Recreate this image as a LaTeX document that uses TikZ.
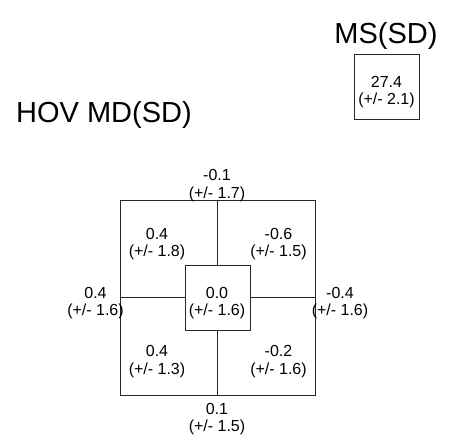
\documentclass[tikz,border=0pt]{standalone}
\usepackage{fontspec}
\setmainfont{Liberation Sans}
\usepackage{tikz}
\usetikzlibrary{positioning}

\tikzset{
  cell/.style={draw=black!85, line width=0.9pt, inner sep=0pt},
  cross/.style={draw=black!85, line width=0.9pt},
  val/.style={inner sep=0pt, align=center, font=\fontsize{16}{17.5}\selectfont},
  title/.style={inner sep=0pt, font=\fontsize{29}{32}\selectfont}
}

\begin{document}
\begin{tikzpicture}[x=1pt,y=1pt,yscale=-1,xscale=1]
\useasboundingbox (0,0) rectangle (450,445);

% Titles
\node (mstitle) [title] at (386,35.8) {MS(SD)};
\node (hovtitle) [title] at (104,115) {HOV MD(SD)};

%Shape: MS box
\node (msbox) [cell, minimum size=65pt] at (386.5,86.5) {};
\node (msval) [val] at (386.5,92) {27.4\\(+/- 2.1)};

%Shape: outer square
\node (grid) [cell, minimum size=195pt] at (217.5,297.5) {};
%Shape: inner square
\node (centre) [cell, minimum size=65pt] at (217.5,297.5) {};

%Straight Lines: cross
\draw [cross] (grid.north) -- (centre.north);
\draw [cross] (grid.south) -- (centre.south);
\draw [cross] (grid.west) -- (centre.west);
\draw [cross] (grid.east) -- (centre.east);

% Text Node
\node (topval) [val] at (217,185.5) {-0.1\\(+/- 1.7)};
% Text Node
\node (ulval) [val] at (157,244) {0.4\\(+/- 1.8)};
% Text Node
\node (urval) [val] at (278.5,244) {-0.6\\(+/- 1.5)};
% Text Node
\node (leftval) [val] at (95.5,303) {0.4\\(+/- 1.6)};
% Text Node
\node (midval) [val] at (217,303) {0.0\\(+/- 1.6)};
% Text Node
\node (rightval) [val] at (340,303) {-0.4\\(+/- 1.6)};
% Text Node
\node (llval) [val] at (157,361.5) {0.4\\(+/- 1.3)};
% Text Node
\node (lrval) [val] at (278.5,361.5) {-0.2\\(+/- 1.6)};
% Text Node
\node (botval) [val] at (217,419) {0.1\\(+/- 1.5)};

\end{tikzpicture}
\end{document}
